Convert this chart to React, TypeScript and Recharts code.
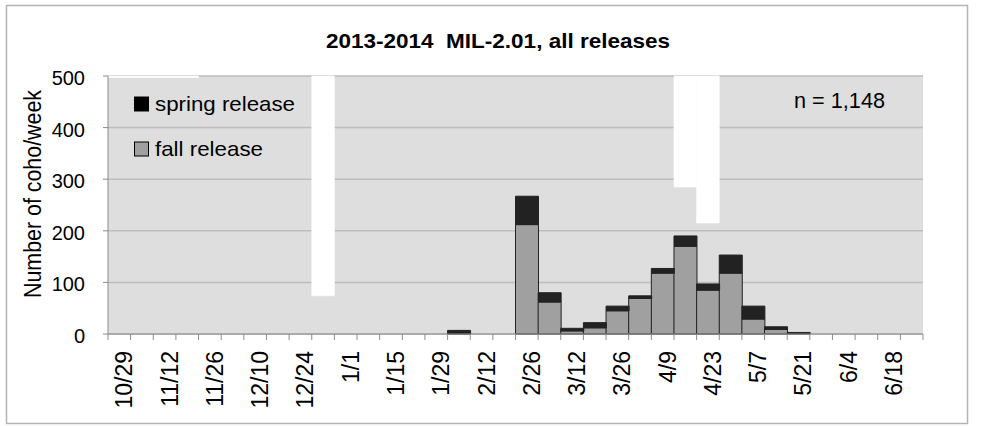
import React from "react"
import { BarChart, Bar, XAxis, YAxis, CartesianGrid, ReferenceArea } from "recharts"

const weeks = [
  "10/29", "11/5", "11/12", "11/19", "11/26", "12/3", "12/10", "12/17", "12/24", "12/28",
  "1/1", "1/8", "1/15", "1/22", "1/29", "2/5", "2/12", "2/19", "2/26", "3/5",
  "3/12", "3/19", "3/26", "4/2", "4/9", "4/16", "4/23", "4/30", "5/7", "5/14",
  "5/21", "5/28", "6/4", "6/11", "6/18", "6/25",
]

const fallRelease = [
  0, 0, 0, 0, 0, 0, 0, 0, 0, 0,
  0, 0, 0, 0, 0, 1, 0, 0, 212, 62,
  6, 12, 45, 69, 118, 170, 85, 118, 29, 9,
  1, 0, 0, 0, 0, 0,
]

const springRelease = [
  0, 0, 0, 0, 0, 0, 0, 0, 0, 0,
  0, 0, 0, 0, 0, 6, 0, 0, 55, 18,
  5, 10, 9, 5, 9, 20, 12, 35, 25, 5,
  2, 0, 0, 0, 0, 0,
]

const tickLabels = [
  "10/29", "11/12", "11/26", "12/10", "12/24", "1/1", "1/15", "1/29", "2/12",
  "2/26", "3/12", "3/26", "4/9", "4/23", "5/7", "5/21", "6/4", "6/18",
]

// weeks with no sampling (white blocks in the background)
const gapWeeks = ["12/28", "4/16", "4/23", "10/29", "11/5", "11/12", "11/19"]
const gapBottoms = [74, 285, 215, 497, 497, 497, 497]

const yTicks = [0, 100, 200, 300, 400, 500]

const data = weeks.map((w, i) => ({ week: w, fall: fallRelease[i], spring: springRelease[i] }))

const FONT = "'Liberation Sans', Arial, sans-serif"
const W = 981
const H = 426
const PLOT_LEFT = 108
const PLOT_RIGHT = 923
const PLOT_TOP = 76
const PLOT_BOTTOM = 334
const BAND = (PLOT_RIGHT - PLOT_LEFT) / weeks.length

const XTick = (props: any) => {
  const { x, y, payload } = props
  const last = payload.value === weeks[weeks.length - 1]
  return (
    <g>
      <line x1={x - BAND / 2} x2={x - BAND / 2} y1={y - 6} y2={y} stroke="#8c8c8c" />
      {last && <line x1={x + BAND / 2} x2={x + BAND / 2} y1={y - 6} y2={y} stroke="#8c8c8c" />}
      {tickLabels.includes(payload.value) && (
        <text
          transform={`translate(${x + 5},${y + 11}) rotate(-90)`}
          textAnchor="end"
          dominantBaseline="central"
          fontSize={23}
          fontFamily={FONT}
          fill="#000"
        >
          {payload.value}
        </text>
      )}
    </g>
  )
}

const YTick = (props: any) => {
  const { x, y, payload } = props
  return (
    <text x={x} y={y + 2} textAnchor="end" dominantBaseline="central" fontSize={20} fontFamily={FONT} fill="#000">
      {payload.value}
    </text>
  )
}

export default function App() {
  return (
    <div style={{ position: "absolute", left: 0, top: 0, width: W, height: H, background: "#fff" }}>
      <BarChart
        width={W}
        height={H}
        data={data}
        margin={{ top: PLOT_TOP, right: W - PLOT_RIGHT, left: 0, bottom: 0 }}
        barCategoryGap={0}
        barGap={0}
      >
        <CartesianGrid vertical={false} fill="#dedede" stroke="#bdbdbd" strokeWidth={1.5} />
        {gapWeeks.map((w, i) => (
          <ReferenceArea
            key={`gap-${i}`}
            x1={w}
            x2={w}
            y1={gapBottoms[i]}
            y2={500}
            fill="#ffffff"
            fillOpacity={1}
            stroke="#ffffff"
            strokeWidth={0.6}
          />
        ))}
        <XAxis
          dataKey="week"
          height={H - PLOT_BOTTOM}
          interval={0}
          tickSize={6}
          tickMargin={0}
          tickLine={false}
          axisLine={{ stroke: "#8c8c8c" }}
          tick={<XTick />}
        />
        <YAxis
          width={PLOT_LEFT}
          domain={[0, 500]}
          ticks={yTicks}
          tickSize={5}
          tickMargin={18}
          axisLine={{ stroke: "#8c8c8c" }}
          tickLine={{ stroke: "#8c8c8c" }}
          tick={<YTick />}
        />
        <Bar dataKey="fall" stackId="a" fill="#a0a0a0" stroke="#222" strokeWidth={1} isAnimationActive={false} />
        <Bar dataKey="spring" stackId="a" fill="#222" stroke="#222" strokeWidth={1} isAnimationActive={false} />
      </BarChart>
      <svg
        width={W}
        height={H}
        style={{ position: "absolute", left: 0, top: 0, pointerEvents: "none" }}
        fontFamily={FONT}
      >
        <rect x={6.5} y={5.5} width={961} height={418} fill="none" stroke="#b4b4b4" strokeWidth={1.5} />
        <text
          x={498}
          y={48}
          textAnchor="middle"
          fontSize={21}
          fontWeight="bold"
          textLength={344}
          lengthAdjust="spacingAndGlyphs"
          style={{ whiteSpace: "pre" }}
        >
          {"2013-2014  MIL-2.01, all releases"}
        </text>
        <text
          transform="translate(41,194) rotate(-90)"
          textAnchor="middle"
          fontSize={23}
          textLength={208}
          lengthAdjust="spacingAndGlyphs"
        >
          Number of coho/week
        </text>
        <rect x={134.5} y={97} width={14} height={14} fill="#000" stroke="#000" />
        <text x={155} y={111} fontSize={21} textLength={140} lengthAdjust="spacingAndGlyphs">spring release</text>
        <rect x={134.5} y={142} width={14} height={14} fill="#a0a0a0" stroke="#000" />
        <text x={155} y={156} fontSize={21} textLength={108} lengthAdjust="spacingAndGlyphs">fall release</text>
        <text x={794} y={108} fontSize={22} textLength={91} lengthAdjust="spacingAndGlyphs">n = 1,148</text>
      </svg>
    </div>
  )
}
